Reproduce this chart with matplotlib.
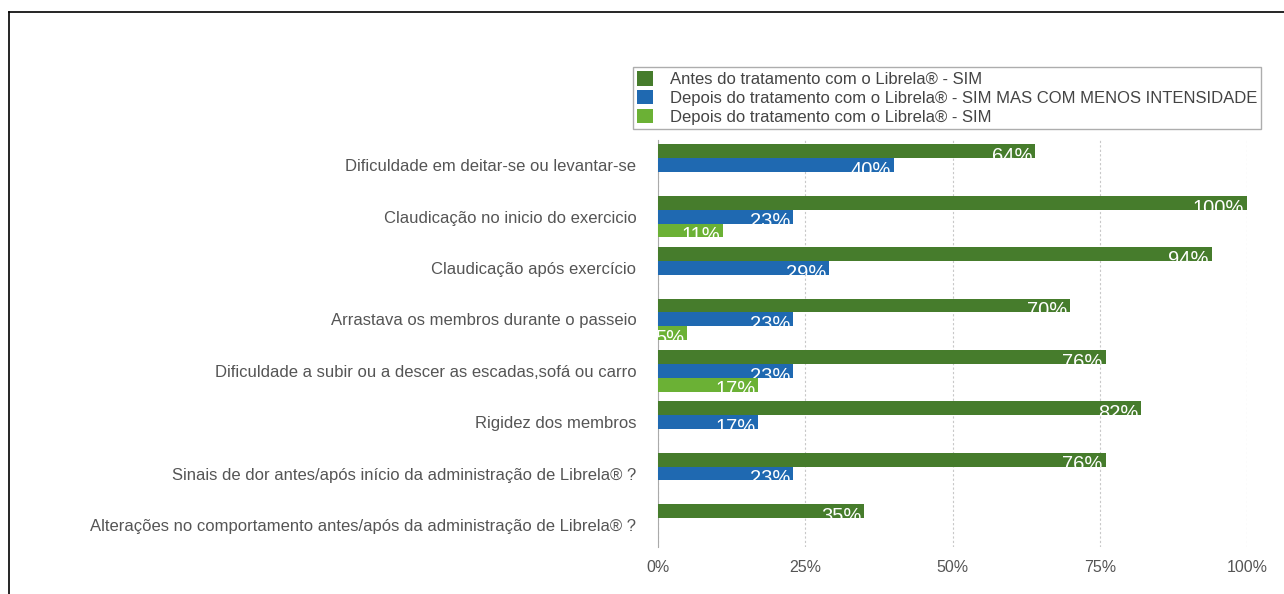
import numpy as np
import matplotlib.pyplot as plt
from matplotlib.lines import Line2D
from matplotlib.patches import Patch

plt.rcParams['font.family'] = ['Liberation Sans', 'DejaVu Sans']

categories = [
    'Dificuldade em deitar-se ou levantar-se',
    'Claudicação no inicio do exercicio',
    'Claudicação após exercício',
    'Arrastava os membros durante o passeio',
    'Dificuldade a subir ou a descer as escadas,sofá ou carro',
    'Rigidez dos membros',
    'Sinais de dor antes/após início da administração de Librela® ?',
    'Alterações no comportamento antes/após da administração de Librela® ?',
]
antes_sim = [64, 100, 94, 70, 76, 82, 76, 35]
depois_menos = [40, 23, 29, 23, 23, 17, 23, None]
depois_sim = [None, 11, None, 5, 17, None, None, None]

series = [
    ('Antes do tratamento com o Librela® - SIM', antes_sim, '#467c2c'),
    ('Depois do tratamento com o Librela® - SIM MAS COM MENOS INTENSIDADE', depois_menos, '#1f69b1'),
    ('Depois do tratamento com o Librela® - SIM', depois_sim, '#6bb135'),
]

fig = plt.figure(figsize=(12.84, 5.94), dpi=100)
ax = fig.add_axes([658 / 1284, 1 - 547 / 594, 589 / 1284, 407 / 594])

h = 0.27
y = np.arange(len(categories))
handles = []
for k, (name, vals, color) in enumerate(series):
    pos = y + (k - 1) * h
    for yi, v in zip(pos, vals):
        if v is None:
            continue
        bar = ax.barh(yi, v, height=h, color=color, zorder=3)[0]
        t = ax.annotate(f'{v}%', xy=(v, yi - h / 2), xytext=(-2, -2),
                        textcoords='offset points', ha='right', va='top',
                        color='white', fontsize=14.5, zorder=4)
        t.set_clip_path(bar)
    handles.append(Patch(facecolor=color, label=name))

ax.set_xlim(0, 100)
ax.set_ylim(7.43, -0.49)
ax.set_xticks([0, 25, 50, 75, 100])
ax.set_xticklabels(['0%', '25%', '50%', '75%', '100%'])
ax.set_yticks(y)
ax.set_yticklabels(categories)
ax.tick_params(axis='both', length=0, colors='#555555')
ax.tick_params(axis='y', pad=15.5, labelsize=12)
ax.tick_params(axis='x', pad=9, labelsize=11.5)
ax.xaxis.grid(True, linestyle=(0, (2, 2)), color='#c8c8c8', linewidth=0.8)
for s in ['top', 'right', 'bottom']:
    ax.spines[s].set_visible(False)
ax.spines['left'].set_color('#aaaaaa')
ax.set_axisbelow(True)

leg = fig.legend(handles=handles, loc='upper left',
                 bbox_to_anchor=(633 / 1284, 1 - 67 / 594),
                 fontsize=12, frameon=True, fancybox=False, handlelength=0.95,
                 handleheight=0.95, handletextpad=1.0, labelspacing=0.18,
                 borderpad=0.25, borderaxespad=0)
leg.get_frame().set_edgecolor('#999999')
leg.get_frame().set_linewidth(1)
for t in leg.get_texts():
    t.set_color('#444444')

fig.add_artist(Line2D([9 / 1284, 1], [1 - 12 / 594, 1 - 12 / 594], color='black', lw=1.2))
fig.add_artist(Line2D([9 / 1284, 9 / 1284], [0, 1 - 12 / 594], color='black', lw=1.2))

fig.savefig('out.png', dpi=100)
